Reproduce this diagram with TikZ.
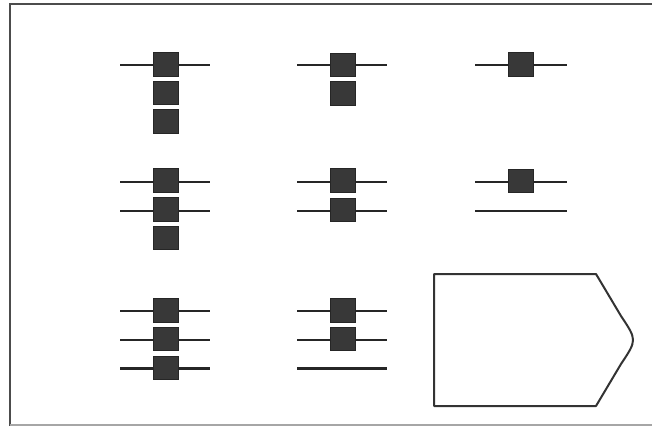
\documentclass[tikz,border=0pt]{standalone}
\begin{document}
\begin{tikzpicture}[x=1pt,y=-1pt,
  pin/.style={draw=black!85,line width=2.4pt},
  blk/.style={fill=black!78,draw=black!85,line width=0.6pt,minimum width=25pt,minimum height=23.5pt,inner sep=0pt},
  frame/.style={draw=black!70,line width=1.6pt},
  outl/.style={draw=black!80,line width=2pt}]
\useasboundingbox (0,0) rectangle (652,427);
\fill[white] (0,0) rectangle (652,427);
\draw[frame] (10,426) -- (10,4) -- (652,4);
\draw[draw=black!35,line width=1.2pt] (10,425) -- (652,425);
% pin lines (drawn first, under the blocks)
\foreach \x/\w/\c in {120/210/1,297/387/2}{
  \foreach \y/\r in {65/1,182/2,211/3,311/4,340/5,368.5/6}{
    \coordinate (L\c\r) at (\x,\y);
    \coordinate (R\c\r) at (\w,\y);
  }}
\foreach \y/\r in {65/1,182/2,211/3}{
  \coordinate (L3\r) at (475,\y);
  \coordinate (R3\r) at (567,\y);
}
\foreach \k in {11,12,13,14,15,16,21,22,23,24,25,26,31,32,33}
  \draw[pin] (L\k) -- (R\k);
% column 1
\foreach \y/\n in {64.5/a,93/b,121.5/c} \node[blk] (c1r1\n) at (166,\y) {};
\foreach \y/\n in {180.5/a,209.5/b,238/c} \node[blk] (c1r2\n) at (166,\y) {};
\foreach \y/\n in {310.5/a,339/b,368/c} \node[blk] (c1r3\n) at (166,\y) {};
% column 2
\foreach \y/\n in {65/a,93.5/b} \node[blk] (c2r1\n) at (342.5,\y) {};
\foreach \y/\n in {180.5/a,210/b} \node[blk] (c2r2\n) at (342.5,\y) {};
\foreach \y/\n in {310.5/a,339/b} \node[blk] (c2r3\n) at (342.5,\y) {};
% column 3
\node[blk] (c3r1a) at (521,64.5) {};
\node[blk] (c3r2a) at (521,181) {};
% outline shape
\draw[outl,line join=round] (434,274) -- (596,274) -- (621,316) .. controls (637,340) .. (621,364) -- (596,406) -- (434,406) -- cycle;
\end{tikzpicture}
\end{document}
